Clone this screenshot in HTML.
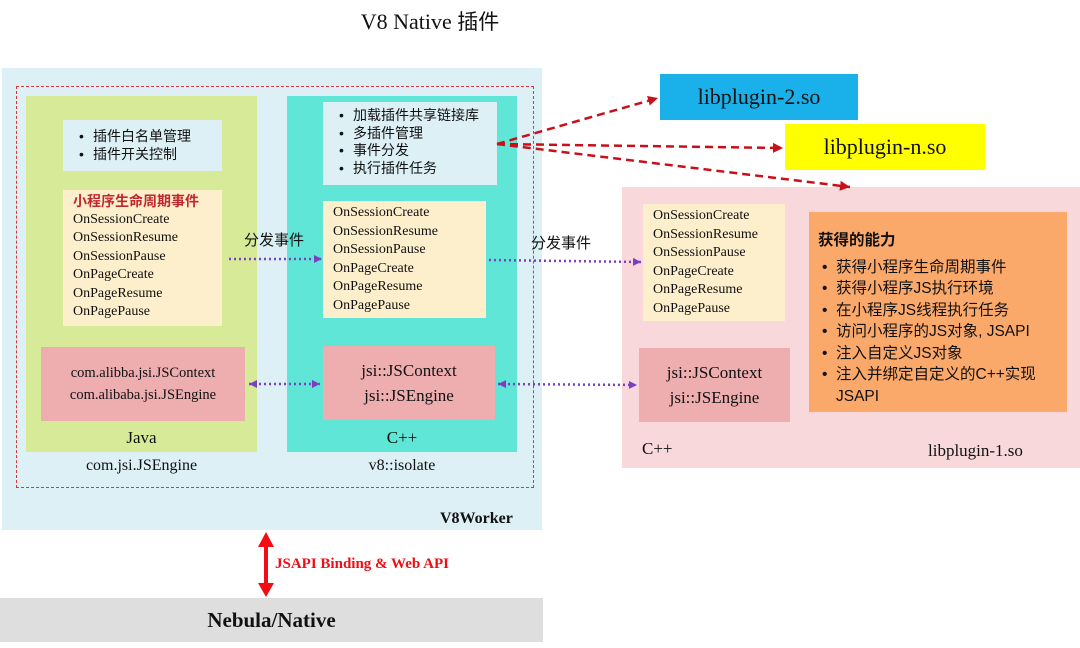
<!DOCTYPE html>
<html><head><meta charset="utf-8"><style>
body{margin:0;width:1080px;height:648px;background:#fff;position:relative;overflow:hidden;font-family:"Liberation Serif","Noto Serif CJK SC",serif;color:#111}
.a{position:absolute;box-sizing:border-box}
.cn{font-family:"Liberation Sans","Noto Sans CJK SC",sans-serif}
.ev{font-size:14px;line-height:18.5px}
ul{margin:0;padding:0 0 0 16px;list-style:none}
li{position:relative}
li:before{content:"•";position:absolute;left:-14px}
</style></head><body>
<div class="a" style="left:0;top:6px;width:860px;text-align:center;font-size:22px">V8 Native <span class="cn" style="font-size:21px">插件</span></div>

<div class="a" style="left:2px;top:68px;width:540px;height:462px;background:#dcf0f6"></div>
<div class="a" style="left:16px;top:86px;width:518px;height:402px;border:1.5px dashed #d9383f"></div>
<div class="a" style="left:26px;top:96px;width:231px;height:356px;background:#d6ea98"></div>
<div class="a" style="left:287px;top:96px;width:230px;height:356px;background:#5fe6d6"></div>

<div class="a cn" style="left:63px;top:120px;width:159px;height:51px;background:#dcf0f6;font-size:14px;line-height:18px;padding:7px 0 0 14px"><ul><li>插件白名单管理</li><li>插件开关控制</li></ul></div>
<div class="a ev" style="left:63px;top:190px;width:159px;height:136px;background:#fdefcc;padding:2px 0 0 10px"><div class="cn" style="color:#c0282d;font-weight:bold;font-size:14px">小程序生命周期事件</div>OnSessionCreate<br>OnSessionResume<br>OnSessionPause<br>OnPageCreate<br>OnPageResume<br>OnPagePause</div>
<div class="a" style="left:41px;top:347px;width:204px;height:74px;background:#eeaeb0;font-size:14.5px;line-height:22px;text-align:center;padding-top:15px">com.alibba.jsi.JSContext<br>com.alibaba.jsi.JSEngine</div>
<div class="a" style="left:26px;top:428px;width:231px;text-align:center;font-size:17px">Java</div>
<div class="a" style="left:26px;top:457px;width:231px;text-align:center;font-size:16px">com.jsi.JSEngine</div>

<div class="a cn" style="left:323px;top:102px;width:174px;height:83px;background:#dcf0f6;font-size:14px;line-height:17.5px;padding:5px 0 0 14px"><ul><li>加载插件共享链接库</li><li>多插件管理</li><li>事件分发</li><li>执行插件任务</li></ul></div>
<div class="a ev" style="left:323px;top:201px;width:163px;height:117px;background:#fdefcc;padding:3px 0 0 10px">OnSessionCreate<br>OnSessionResume<br>OnSessionPause<br>OnPageCreate<br>OnPageResume<br>OnPagePause</div>
<div class="a" style="left:323px;top:346px;width:172px;height:74px;background:#eeaeb0;font-size:17px;line-height:25px;text-align:center;padding-top:12px">jsi::JSContext<br>jsi::JSEngine</div>
<div class="a" style="left:287px;top:428px;width:230px;text-align:center;font-size:17px">C++</div>
<div class="a" style="left:287px;top:457px;width:230px;text-align:center;font-size:16px">v8::isolate</div>
<div class="a" style="left:440px;top:510px;font-size:16px;font-weight:bold">V8Worker</div>

<div class="a cn" style="left:244px;top:229px;font-size:15px">分发事件</div>
<div class="a cn" style="left:531px;top:232px;font-size:15px">分发事件</div>

<div class="a" style="left:660px;top:74px;width:198px;height:46px;background:#1ab1ea;font-size:22px;text-align:center;line-height:46px">libplugin-2.so</div>
<div class="a" style="left:785px;top:124px;width:200px;height:46px;background:#ffff00;font-size:22px;text-align:center;line-height:46px">libplugin-n.so</div>

<div class="a" style="left:622px;top:187px;width:458px;height:281px;background:#f8d8da"></div>
<div class="a ev" style="left:643px;top:204px;width:142px;height:117px;background:#fdefcc;padding:3px 0 0 10px">OnSessionCreate<br>OnSessionResume<br>OnSessionPause<br>OnPageCreate<br>OnPageResume<br>OnPagePause</div>
<div class="a" style="left:639px;top:348px;width:151px;height:74px;background:#eeaeb0;font-size:17px;line-height:25px;text-align:center;padding-top:12px">jsi::JSContext<br>jsi::JSEngine</div>
<div class="a cn" style="left:809px;top:212px;width:258px;height:200px;background:#fba96a;font-size:15.5px;line-height:21.5px;padding:18px 8px 0 9px"><div style="font-weight:bold;margin-bottom:5px">获得的能力</div><ul style="padding-left:18px"><li>获得小程序生命周期事件</li><li>获得小程序JS执行环境</li><li>在小程序JS线程执行任务</li><li>访问小程序的JS对象, JSAPI</li><li>注入自定义JS对象</li><li>注入并绑定自定义的C++实现JSAPI</li></ul></div>
<div class="a" style="left:642px;top:439px;font-size:17px">C++</div>
<div class="a" style="left:928px;top:441px;font-size:17px">libplugin-1.so</div>

<div class="a" style="left:0;top:598px;width:543px;height:44px;background:#dedede;text-align:center;font-size:21px;font-weight:bold;line-height:44px">Nebula/Native</div>
<div class="a" style="left:275px;top:556px;color:#f20d14;font-weight:bold;font-size:15px">JSAPI Binding &amp; Web API</div>

<svg class="a" style="left:0;top:0" width="1080" height="648">
<defs>
<marker id="r" markerUnits="userSpaceOnUse" markerWidth="12" markerHeight="12" refX="10" refY="5" orient="auto"><path d="M0,0 L10,5 L0,10z" fill="#c8101a"/></marker>
<marker id="p" markerUnits="userSpaceOnUse" markerWidth="10" markerHeight="10" refX="8" refY="4" orient="auto-start-reverse"><path d="M0,0 L8,4 L0,8z" fill="#7b3fc0"/></marker>
</defs>
<g stroke="#c8101a" stroke-width="2.5" stroke-dasharray="8,5" fill="none">
<line x1="497" y1="144" x2="658" y2="98" marker-end="url(#r)"/>
<line x1="497" y1="144" x2="783" y2="148" marker-end="url(#r)"/>
<line x1="497" y1="144" x2="850" y2="187" marker-end="url(#r)"/>
</g>
<g stroke="#7b3fc0" stroke-width="2.5" stroke-dasharray="2,3" fill="none">
<line x1="229" y1="259" x2="322" y2="259" marker-end="url(#p)"/>
<line x1="489" y1="260" x2="641" y2="262" marker-end="url(#p)"/>
<line x1="249" y1="384" x2="320" y2="384" marker-start="url(#p)" marker-end="url(#p)"/>
<line x1="498" y1="384" x2="637" y2="385" marker-start="url(#p)" marker-end="url(#p)"/>
</g>
<line x1="266" y1="545" x2="266" y2="585" stroke="#f20d14" stroke-width="4"/>
<path d="M258,547 L266,532 L274,547z M258,583 L266,597 L274,583z" fill="#f20d14"/>
</svg>
</body></html>
